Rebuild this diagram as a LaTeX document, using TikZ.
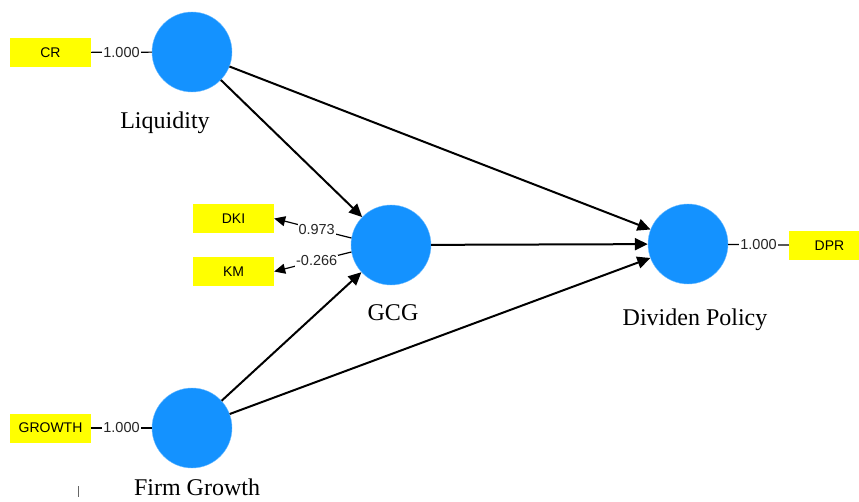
\documentclass[tikz,border=0pt]{standalone}
\usepackage{fontspec}
\setmainfont{Liberation Serif}
\setsansfont{Liberation Sans}
\usetikzlibrary{arrows.meta}
\definecolor{latentblue}{RGB}{20,146,255}
\definecolor{indyellow}{RGB}{255,255,0}
\tikzset{
  latent/.style={circle, fill=latentblue, draw=latentblue!60, minimum size=80pt, inner sep=0pt},
  indicator/.style={rectangle, fill=indyellow, minimum width=81pt, minimum height=29pt, inner sep=0pt, font=\sffamily\fontsize{14}{14}\selectfont},
  loading/.style={fill=white, inner sep=1pt, font=\sffamily\fontsize{14.5}{14.5}\selectfont, text=black!85},
  vname/.style={font=\fontsize{24}{24}\selectfont},
  path/.style={line width=2pt, -{Triangle[length=13pt, width=12pt]}},
  outer/.style={line width=1.2pt, -{Triangle[length=11pt, width=10pt]}}
}
\begin{document}
\begin{tikzpicture}[x=1pt, y=-1pt]
\useasboundingbox (0,0) rectangle (859,502);
\node[latent] (liq) at (192,52){};
\node[latent] (gcg) at (391,245){};
\node[latent] (fg) at (192,428){};
\node[latent] (dp) at (688,244){};
\node[vname] (liqlab) at (165,123){Liquidity};
\node[vname] (gcglab) at (393,313){GCG};
\node[vname] (fglab) at (197,487){Firm Growth};
\node[vname] (dplab) at (695,320){Dividen Policy};
\node[indicator] (cr) at (50.5,52.5){CR};
\node[indicator] (dki) at (233.5,218.5){DKI};
\node[indicator] (km) at (233.5,271.5){KM};
\node[indicator] (growth) at (50.5,428){GROWTH};
\node[indicator] (dpr) at (829.5,245.5){DPR};
\draw[line width=1.2pt] (cr) -- node[loading]{1.000} (liq);
\draw[line width=1.2pt] (growth) -- node[loading]{1.000} (fg);
\draw[line width=1.2pt] (dp) -- node[loading]{1.000} (dpr);
\draw[outer] (gcg.180-10) -- node[loading, pos=0.45]{0.973} (dki.east);
\draw[outer] (gcg.180+10) -- node[loading, pos=0.45]{-0.266} (km.east);
\draw[path] (liq) -- (gcg);
\draw[path] (liq) -- (dp);
\draw[path] (gcg) -- (dp);
\draw[path] (fg) -- (gcg);
\draw[path] (fg) -- (dp);
\draw[line width=0.8pt, black!60] (78,486) -- (78,497);
\end{tikzpicture}
\end{document}
